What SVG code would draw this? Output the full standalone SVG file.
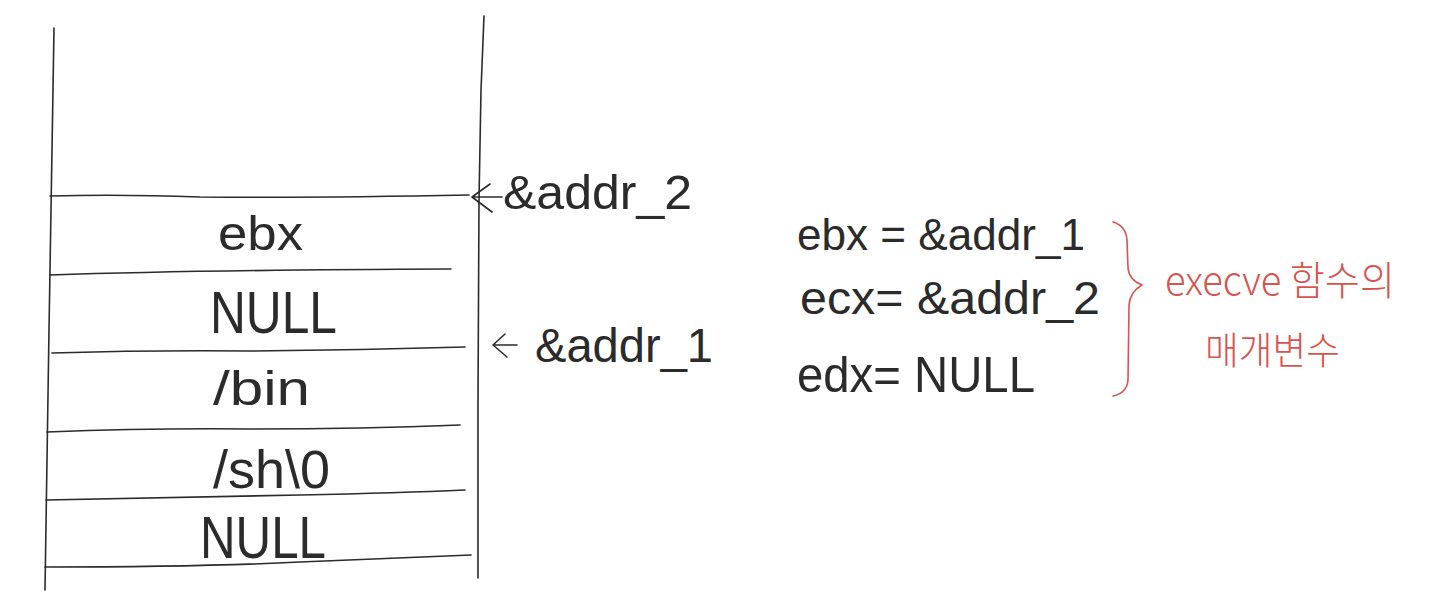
<svg xmlns="http://www.w3.org/2000/svg" width="1440" height="602" viewBox="0 0 1440 602">
<style>
.ln{fill:none;stroke:#2b2b2b;stroke-width:1.6;stroke-linecap:round;stroke-linejoin:round}
.rd{fill:none;stroke:#d9534f;stroke-width:1.6;stroke-linecap:round;stroke-linejoin:round}
.t{font-family:"Liberation Sans","Noto Sans CJK KR",sans-serif;fill:#2b2b2b;font-weight:normal}
.r{font-family:"Noto Sans CJK KR","Liberation Sans",sans-serif;fill:#d9534f;font-weight:300}
</style>
<rect width="1440" height="602" fill="#ffffff"/>
<g id="stack">
  <path class="ln" d="M54,28 L52,150 L49,330 L47,460 L45,590"/>
  <path class="ln" d="M484,16 L481,90 L479,200 L478,400 L478,578"/>
  <path class="ln" d="M50,196 Q120,194 200,197 Q320,198 469,195"/>
  <path class="ln" d="M50,275 Q200,270 451,269"/>
  <path class="ln" d="M52,353 Q150,350 250,351 Q360,350 465,347"/>
  <path class="ln" d="M47,432 Q150,428 250,429 Q360,429 460,425"/>
  <path class="ln" d="M46,500 Q200,497 300,495 Q400,493 465,490"/>
  <path class="ln" d="M45,567 Q200,567 300,562 Q400,558 471,555"/>
</g>
<g id="cell-ebx"><text class="t" x="218" y="250" font-size="48" textLength="85" lengthAdjust="spacingAndGlyphs">ebx</text></g>
<g id="cell-null1"><text class="t" x="210" y="333" font-size="60" textLength="127" lengthAdjust="spacingAndGlyphs">NULL</text></g>
<g id="cell-bin"><text class="t" x="213" y="405" font-size="48" textLength="97" lengthAdjust="spacingAndGlyphs">/bin</text></g>
<g id="cell-sh"><text class="t" x="213" y="488" font-size="54" textLength="117" lengthAdjust="spacingAndGlyphs">/sh\0</text></g>
<g id="cell-null2"><text class="t" x="200" y="558" font-size="60" textLength="126" lengthAdjust="spacingAndGlyphs">NULL</text></g>
<g id="connectors">
  <path class="ln" d="M502,197 L472,197 M490,184 L472,197 L492,212"/>
  <path class="ln" d="M517,345 L493,345 M505,334 L493,345 L507,357"/>
  <path class="rd" d="M1113,222 Q1126,226 1127,240 L1128,268 Q1129,280 1142,285 Q1130,292 1129,305 L1128,380 Q1127,393 1113,396"/>
</g>
<g id="label-addr2"><text class="t" x="503" y="209" font-size="48" textLength="189" lengthAdjust="spacingAndGlyphs">&amp;addr_2</text></g>
<g id="label-addr1"><text class="t" x="535" y="362" font-size="48" textLength="178" lengthAdjust="spacingAndGlyphs">&amp;addr_1</text></g>
<g id="reg-ebx"><text class="t" x="797" y="250" font-size="44" textLength="288" lengthAdjust="spacingAndGlyphs">ebx = &amp;addr_1</text></g>
<g id="reg-ecx"><text class="t" x="800" y="314" font-size="46" textLength="300" lengthAdjust="spacingAndGlyphs">ecx= &amp;addr_2</text></g>
<g id="reg-edx"><text class="t" x="797" y="392" font-size="50" textLength="238" lengthAdjust="spacingAndGlyphs">edx= NULL</text></g>
<g id="note">
  <text class="r" x="1165" y="295" font-size="40" textLength="230" lengthAdjust="spacingAndGlyphs">execve 함수의</text>
  <text class="r" x="1205" y="364" font-size="38" textLength="135" lengthAdjust="spacingAndGlyphs">매개변수</text>
</g>
</svg>
